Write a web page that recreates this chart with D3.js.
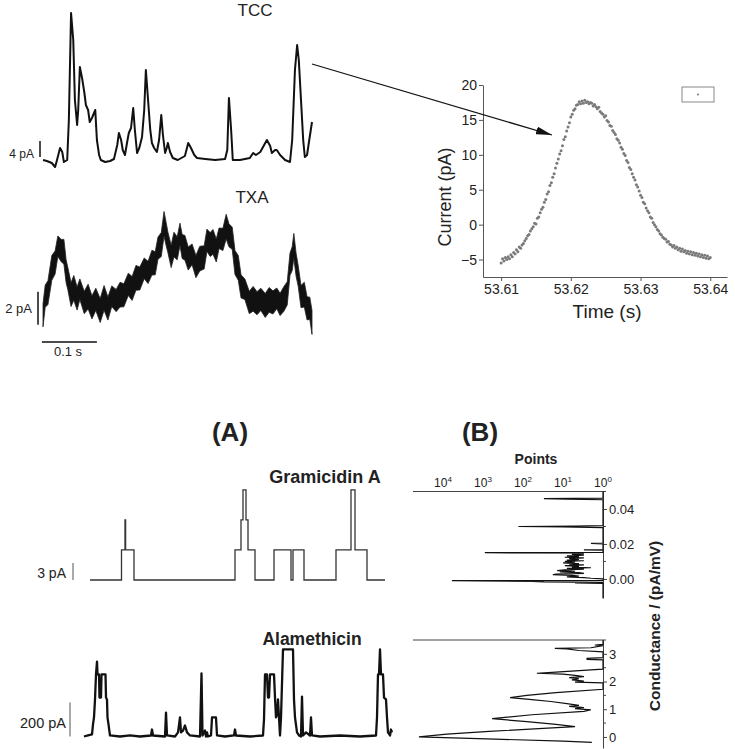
<!DOCTYPE html>
<html><head><meta charset="utf-8">
<script src="https://cdn.jsdelivr.net/npm/d3@7"></script>
<style>
body{margin:0;background:#fff}
text{font-family:"Liberation Sans",Arial,Helvetica,sans-serif;fill:#222}
</style></head>
<body><svg id="c" width="735" height="749"></svg>
<script>
// ---------- DATA ----------
// TCC trace: time (ms), current (pA)
const tccT = [0,7,16,22,25,31,35,38,44,47,51,55,58,62,64,67,71,75,78,82,85,89,95,98,102,105,113,122,129,135,138,142,145,149,153,156,160,164,167,171,175,180,184,187,191,195,198,202,207,211,215,218,222,225,227,231,236,245,258,264,269,275,280,295,313,331,335,338,342,345,358,376,382,387,395,402,407,413,416,422,425,431,440,449,453,458,462,465,469,473,476,480,484,489];
const tccI = [0.25,0,-0.5,-1.5,0,3.25,2.25,-0.25,0.25,10.25,37,30.25,15.25,9,12.75,23.5,20.75,17.25,14,12.75,9.75,10.75,12.75,5.25,1.5,0.25,-0.25,0,0.5,4,7,5.25,2.75,1.5,4.75,7,8.25,13.25,7.75,2,3.25,6,12.75,22.75,15.25,7.75,4.5,3.25,2.25,5.25,11.5,6.5,2,3.25,4.5,2.25,0.75,0.25,1.25,4.5,3.25,1.5,0.75,0.5,0.25,0.5,2.75,15.75,7.75,0.25,0.25,0.75,2,1.5,2.25,4,5.25,3.75,2,2.75,2.75,1.5,0.25,-0.25,5.25,22.75,29,25.25,15.25,5.25,1,1.5,5.25,9.75];

// TXA trace: time (ms), upper and lower noise envelope (pA)
const txaT = [0,4,9,16,22,27,33,38,42,45,51,56,62,67,75,82,89,96,104,111,118,125,133,140,147,155,162,169,176,184,191,198,204,209,215,220,224,227,233,238,244,249,253,258,264,271,278,285,293,298,304,309,315,320,327,333,338,344,349,355,360,367,375,382,389,396,404,411,418,425,431,438,444,449,453,456,460,464,469,475,480,485,489];
const txaHi = [0.38,1.51,1.78,3.30,3.58,4.49,4.28,4.28,3.05,2.60,1.66,2.09,1.40,1.88,1.13,1.56,0.86,1.32,0.69,1.48,0.79,1.46,1.25,1.68,1.59,2.23,2.03,2.70,2.61,3.15,2.95,3.62,3.53,4.42,4.69,5.97,5.28,4.73,3.92,4.71,4.44,5.26,4.57,4.52,3.82,4.00,3.31,3.86,3.89,4.90,4.69,4.88,4.31,4.97,4.95,5.80,5.23,5.02,3.60,3.30,2.13,1.88,1.13,1.43,1.11,1.32,1.00,1.36,1.16,1.33,1.01,1.43,1.71,3.45,3.84,4.64,3.46,2.67,1.49,1.68,0.80,0.78,-0.03];
const txaLo = [-1.02,0.16,0.33,1.80,2.18,3.24,2.93,2.78,1.65,1.25,0.21,0.59,0.00,0.63,-0.22,0.06,-0.54,-0.03,-0.76,-0.02,-0.61,0.21,-0.10,0.18,0.19,0.88,0.58,1.20,1.21,1.90,1.60,2.12,2.13,3.07,3.24,4.47,3.88,3.48,2.57,3.21,3.04,3.91,3.12,3.02,2.42,2.75,1.96,2.36,2.49,3.55,3.24,3.38,2.91,3.72,3.60,4.30,3.83,3.67,2.15,1.80,0.73,0.63,-0.22,-0.07,-0.29,-0.03,-0.45,-0.14,-0.24,0.08,-0.34,-0.07,0.31,2.10,2.39,3.14,2.06,1.42,0.14,0.18,-0.60,-0.57,-1.48];

// Inset: current (pA) sampled every 0.2 ms from 53.6100 s
const insetT0 = 53.61, insetDt = 0.0002;
const insetI = [-5.5,-4.9,-5.2,-4.7,-5.0,-4.6,-4.9,-4.3,-4.6,-4.0,-4.2,-3.6,-3.9,-3.2,-3.4,-2.9,-2.7,-2.3,-2.0,-1.6,-1.4,-0.9,-0.6,-0.3,0.2,0.1,0.9,1.1,1.7,2.2,2.5,3.2,3.6,4.4,4.7,5.6,6.0,6.8,7.3,8.1,8.8,9.4,10.1,10.6,11.3,12.2,12.6,13.4,14.0,14.6,15.4,15.8,16.4,16.6,17.1,17.2,17.6,17.3,17.7,17.4,17.8,17.5,17.6,17.3,17.5,17.4,17.0,17.2,16.9,16.6,16.8,16.2,16.0,15.8,15.4,15.6,14.9,14.7,14.2,14.1,13.5,13.2,12.9,12.3,12.1,11.7,11.1,10.8,10.2,9.9,9.2,8.9,8.2,7.9,7.3,6.8,6.4,5.7,5.4,4.8,4.2,3.9,3.2,3.0,2.4,2.0,1.7,1.1,0.9,0.3,0.0,-0.3,-0.7,-0.9,-1.3,-1.5,-1.8,-2.0,-2.1,-2.5,-2.4,-2.8,-2.9,-3.2,-3.0,-3.4,-3.2,-3.6,-3.4,-3.8,-3.5,-3.9,-3.7,-4.1,-3.8,-4.2,-3.9,-4.3,-4.0,-4.4,-4.1,-4.5,-4.2,-4.6,-4.3,-4.7,-4.4,-4.8,-4.5,-4.9,-4.7];
const insetXTicks = [53.61,53.62,53.63,53.64];
const insetYTicks = [-5,0,5,10,15,20];

// Gramicidin A trace: time (a.u.), current (pA)
const gramT = [0,31.5,31.5,35,35,35.6,35.6,44,44,145,145,151,151,153,153,156,156,158,158,165,165,184,184,201,201,203,203,214,214,246,246,261,261,265,265,277,277,295];
const gramI = [0,0,5.3,5.3,10.6,10.6,5.3,5.3,0,0,5.3,5.3,10.6,10.6,15.9,15.9,10.6,10.6,5.3,5.3,0,0,5.3,5.3,0,0,5.3,5.3,0,0,5.3,5.3,15.9,15.9,5.3,5.3,0,0];

// Alamethicin trace: time (a.u.), current (pA)
const alamT = [0,4,8,9,10,11,12,13,13.5,15,15.5,17,17.5,21.5,22,23,23.5,24.5,26,36,46,56,67,68,69,81,82,83,91,94,96,97,99,101,103,106,116,117.5,118.5,121,122,123,124,127,128,132,133,141,150,151,152,166,179,180,181,183,184,185,186,190,191,192,193,194,195,196,197,199,209,210,211,213,215,217,218,219,222,226,227,228,236,256,276,292,293,294,295,296,297,299,300,302,303,304,306,307,308];
const alamI = [0,6,12,71,112,218,365,441,365,365,229,229,365,365,229,218,112,71,6,0,6,0,6,41,6,0,141,6,0,24,112,24,35,65,24,6,0,371,6,35,0,24,0,6,112,112,6,0,6,41,6,0,6,100,365,365,229,229,365,365,229,112,129,218,112,6,112,512,512,218,112,24,6,0,235,6,24,6,112,6,0,6,0,6,112,365,365,512,365,365,229,218,112,24,6,41,24];

// Histogram (B) upper: conductance (pA/mV), points
const histG1 = [0.050,0.0462,0.0459,0.0456,0.0453,0.0305,0.0302,0.0300,0.0297,0.0294,0.0205,0.0203,0.0200,0.0168,0.0166,0.0163,0.0152,0.0150,0.0147,0.0144,0.0140,0.0136,0.0132,0.0128,0.0124,0.0120,0.0116,0.0112,0.0108,0.0104,0.0100,0.0096,0.0092,0.0088,0.0084,0.0080,0.0076,0.0072,0.0068,0.0064,0.0060,0.0056,0.0052,0.0048,0.0044,0.0040,0.0036,0.0032,0.0028,0.0024,0.0020,0.0016,0.0012,0.0008,0.0004,0.0000,-0.0008,-0.0010,-0.0014,-0.0017,-0.0020,-0.0023,-0.0026,-0.0110];
const histN1 = [1,1,30,8,1,1,5,130,10,1,1,2,1,1,3,1,1,900,5,3,6,3,8,4,9,3,7,4,8,3,9,5,10,4,7,3,9,4,6,2,8,3,9,14,5,12,4,3,15,18,6,4,8,3,2,1,1,6000,60,30,1,5,1,1];
// Histogram (B) lower
const histG2 = [3.5,3.34,3.32,3.30,3.22,3.20,3.18,3.12,3.07,2.86,2.84,2.80,2.78,2.45,2.42,2.34,2.30,2.27,2.22,2.18,2.14,2.10,2.06,2.02,1.98,1.95,1.72,1.6,1.5,1.42,1.35,1.28,1.2,1.14,1.10,1.06,1.02,0.98,0.92,0.8,0.66,0.55,0.45,0.37,0.3,0.2,0.1,0.0,-0.08,-0.15,-0.2];
const histN2 = [1,1,1.6,1,2,16,8,4,1,1,2.5,2.5,1,1,2,15,45,10,5,3,7,4,6,3,5,1,1,15,80,210,60,20,8,4,7,3,5,2,3,60,590,80,15,5,40,700,8000,40000,500,10,1.9];
const logTicks = [4,3,2,1,0];
const g1Ticks = [0.00,0.02,0.04];
const g1Minor = [0.01,0.03,0.05];
const g2Ticks = [0,1,2,3];
const g2Minor = [0.5,1.5,2.5,3.5];

// ---------- DRAW ----------
const svg = d3.select("#c");
svg.append("rect").attr("width",735).attr("height",749).attr("fill","#fff");

// time scale shared by TCC / TXA
const xT = d3.scaleLinear().domain([0,489]).range([43,312]);
const yTCC = d3.scaleLinear().domain([0,37]).range([161,13]);
const yTXA = d3.scaleLinear().domain([0,1]).range([310,293.5]);

svg.append("path")
  .attr("d", d3.line().x((d,i)=>xT(tccT[i])).y((d,i)=>yTCC(tccI[i]))(tccT))
  .attr("fill","none").attr("stroke","#111").attr("stroke-width",2).attr("stroke-linejoin","round");

svg.append("path")
  .attr("d", d3.area().x((d,i)=>xT(txaT[i])).y0((d,i)=>yTXA(txaLo[i])).y1((d,i)=>yTXA(txaHi[i]))(txaT))
  .attr("fill","#111").attr("stroke","#222").attr("stroke-width",0.8).attr("stroke-linejoin","miter");

svg.append("text").attr("x",255).attr("y",16).attr("text-anchor","middle").attr("font-size",17).text("TCC");
svg.append("text").attr("x",252).attr("y",203).attr("text-anchor","middle").attr("font-size",17).text("TXA");

// scale bars
svg.append("line").attr("x1",40).attr("x2",40).attr("y1",yTCC(1)).attr("y2",yTCC(5)).attr("stroke","#111").attr("stroke-width",1.5);
svg.append("text").attr("x",34).attr("y",158).attr("text-anchor","end").attr("font-size",12).text("4 pA");
svg.append("line").attr("x1",38).attr("x2",38).attr("y1",yTXA(-0.9)).attr("y2",yTXA(1.1)).attr("stroke","#111").attr("stroke-width",1.5);
svg.append("text").attr("x",32).attr("y",313).attr("text-anchor","end").attr("font-size",13).text("2 pA");
svg.append("line").attr("x1",xT(-2)).attr("x2",xT(98)).attr("y1",342).attr("y2",342).attr("stroke","#111").attr("stroke-width",1.5);
svg.append("text").attr("x",68).attr("y",356).attr("text-anchor","middle").attr("font-size",13).text("0.1 s");

// inset
const xI = d3.scaleLinear().domain([53.6074,53.6424]).range([483,727]);
const yI = d3.scaleLinear().domain([-7.5,20]).range([277,85]);
const gx = svg.append("g").attr("transform","translate(0,277)")
  .call(d3.axisBottom(xI).tickValues(insetXTicks).tickFormat(d3.format(".2f")).tickSize(4).tickSizeOuter(0).tickPadding(3));
const gy = svg.append("g").attr("transform","translate(483,0)")
  .call(d3.axisLeft(yI).tickValues(insetYTicks).tickSize(4).tickSizeOuter(0).tickPadding(2));
[gx,gy].forEach(g=>{
  g.select(".domain").attr("stroke","#555");
  g.selectAll(".tick line").attr("stroke","#555");
  g.selectAll("text").attr("font-size",14).attr("fill","#333").attr("font-family","Liberation Sans, Arial, sans-serif");
});
svg.append("g").selectAll("circle").data(insetI).join("circle")
  .attr("cx",(d,i)=>xI(insetT0+i*insetDt)).attr("cy",d=>yI(d)).attr("r",1.5).attr("fill","#7a7a7a");
svg.append("text").attr("transform","translate(451,197) rotate(-90)").attr("text-anchor","middle").attr("font-size",18).text("Current (pA)");
svg.append("text").attr("x",607).attr("y",318).attr("text-anchor","middle").attr("font-size",19).text("Time (s)");
svg.append("rect").attr("x",682).attr("y",87).attr("width",32).attr("height",15).attr("fill","none").attr("stroke","#888");
svg.append("circle").attr("cx",698).attr("cy",94.5).attr("r",1).attr("fill","#777");

// arrow
svg.append("defs").append("marker").attr("id","ah").attr("markerUnits","userSpaceOnUse")
  .attr("markerWidth",16).attr("markerHeight",8).attr("refX",16).attr("refY",4).attr("orient","auto")
  .append("path").attr("d","M0,0 L16,4 L0,8 Z").attr("fill","#111");
svg.append("line").attr("x1",312).attr("y1",64).attr("x2",552).attr("y2",135)
  .attr("stroke","#111").attr("stroke-width",1.3).attr("marker-end","url(#ah)");

// (A) panel
svg.append("text").attr("x",230).attr("y",441).attr("text-anchor","middle").attr("font-size",26).attr("font-weight","bold").text("(A)");
svg.append("text").attr("x",480).attr("y",441).attr("text-anchor","middle").attr("font-size",26).attr("font-weight","bold").text("(B)");
svg.append("text").attr("x",325).attr("y",483).attr("text-anchor","middle").attr("font-size",18).attr("font-weight","bold").text("Gramicidin A");
svg.append("text").attr("x",312).attr("y",645).attr("text-anchor","middle").attr("font-size",17.5).attr("font-weight","bold").text("Alamethicin");

const xG = d3.scaleLinear().domain([0,295]).range([90,385]);
const yGr = d3.scaleLinear().domain([0,3]).range([580,563]);
svg.append("path").attr("d", d3.line().x((d,i)=>xG(gramT[i])).y((d,i)=>yGr(gramI[i]))(gramT))
  .attr("fill","none").attr("stroke","#333").attr("stroke-width",1.3);
svg.append("line").attr("x1",73).attr("x2",73).attr("y1",yGr(0)).attr("y2",yGr(3)).attr("stroke","#555").attr("stroke-width",1);
svg.append("text").attr("x",66).attr("y",578).attr("text-anchor","end").attr("font-size",14).text("3 pA");

const xA = d3.scaleLinear().domain([0,308]).range([84,392]);
const yA = d3.scaleLinear().domain([0,200]).range([736.5,702.5]);
svg.append("path").attr("d", d3.line().x((d,i)=>xA(alamT[i])).y((d,i)=>yA(alamI[i]))(alamT))
  .attr("fill","none").attr("stroke","#111").attr("stroke-width",2.3).attr("stroke-linejoin","round");
svg.append("line").attr("x1",70).attr("x2",70).attr("y1",yA(0)).attr("y2",yA(200)).attr("stroke","#555").attr("stroke-width",1);
svg.append("text").attr("x",66).attr("y",728).attr("text-anchor","end").attr("font-size",14.5).text("200 pA");

// (B) histograms
const xH = d3.scaleLog().domain([Math.pow(10,4.75),1]).range([413,603]);
const yG1 = d3.scaleLinear().domain([-0.0109,0.05]).range([598,491.5]);
const yG2 = d3.scaleLinear().domain([-0.4,3.5]).range([748,640]);

svg.append("line").attr("x1",413).attr("x2",603).attr("y1",yG1(0.05)).attr("y2",yG1(0.05)).attr("stroke","#444");
svg.append("line").attr("x1",413).attr("x2",603).attr("y1",yG2(3.5)).attr("y2",yG2(3.5)).attr("stroke","#444");
const r1 = svg.append("g").attr("transform","translate(603,0)")
  .call(d3.axisRight(yG1).tickValues(g1Ticks).tickFormat(d3.format(".2f")).tickSize(4).tickSizeOuter(0).tickPadding(2));
const r2 = svg.append("g").attr("transform","translate(603,0)")
  .call(d3.axisRight(yG2).tickValues(g2Ticks).tickFormat(d3.format("d")).tickSize(4).tickSizeOuter(0).tickPadding(2));
[r1,r2].forEach(g=>{
  g.select(".domain").attr("stroke","#444");
  g.selectAll(".tick line").attr("stroke","#444");
  g.selectAll("text").attr("font-size",13).attr("fill","#333").attr("font-family","Liberation Sans, Arial, sans-serif");
});
svg.append("g").selectAll("line").data(g1Minor).join("line")
  .attr("x1",603).attr("x2",606).attr("y1",d=>yG1(d)).attr("y2",d=>yG1(d)).attr("stroke","#444");
svg.append("g").selectAll("line").data(g2Minor).join("line")
  .attr("x1",603).attr("x2",606).attr("y1",d=>yG2(d)).attr("y2",d=>yG2(d)).attr("stroke","#444");

const lt = svg.append("g").selectAll("text").data(logTicks).join("text")
  .attr("x",d=>xH(Math.pow(10,d))).attr("y",487).attr("text-anchor","middle").attr("font-size",12);
lt.append("tspan").text("10");
lt.append("tspan").attr("dy",-5).attr("font-size",8).text(d=>d);
svg.append("text").attr("x",536).attr("y",464).attr("text-anchor","middle").attr("font-size",14).attr("font-weight","bold").text("Points");

svg.append("path").attr("d", d3.line().x((d,i)=>xH(histN1[i])).y((d,i)=>yG1(histG1[i]))(histG1))
  .attr("fill","none").attr("stroke","#111").attr("stroke-width",1.2);
svg.append("path").attr("d", d3.line().x((d,i)=>xH(histN2[i])).y((d,i)=>yG2(histG2[i]))(histG2))
  .attr("fill","none").attr("stroke","#111").attr("stroke-width",1.2);

svg.append("text").attr("transform","translate(660,626) rotate(-90)").attr("text-anchor","middle")
  .attr("font-size",15.5).attr("font-weight","bold").text("Conductance / (pA/mV)");
</script></body></html>
